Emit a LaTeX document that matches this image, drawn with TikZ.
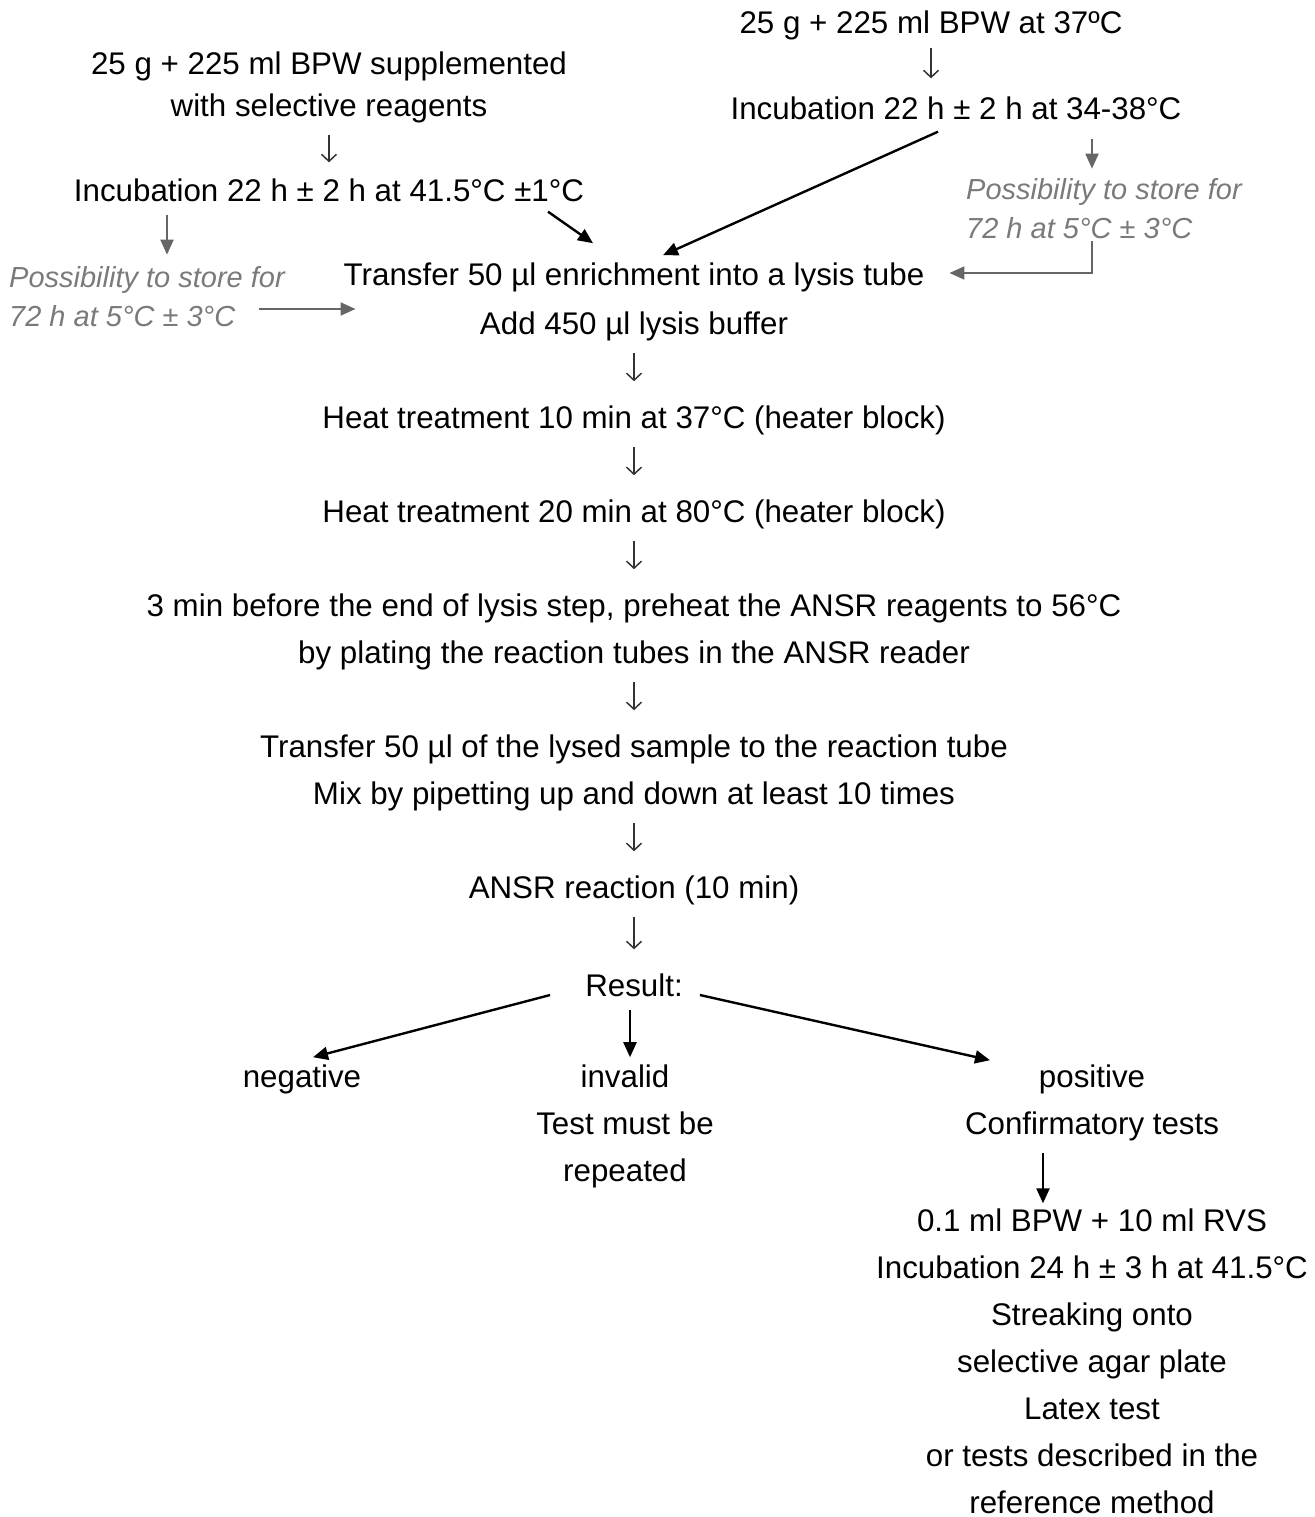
\documentclass[tikz,border=0pt]{standalone}
\usepackage{fontspec}
\setmainfont{Liberation Sans}
\usetikzlibrary{positioning,arrows.meta,calc}
\definecolor{storegrey}{HTML}{7A7A7A}
\definecolor{linegrey}{HTML}{666666}
\begin{document}
\begin{tikzpicture}[
  x=1pt,y=-1pt,
  every node/.style={font=\fontsize{31.3}{47}\selectfont,align=center,inner sep=4pt},
  tight/.style={font=\fontsize{31.3}{42}\selectfont},
  store/.style={font=\fontsize{29}{39}\selectfont\itshape,text=storegrey,align=left},
  edge/.style={-{Triangle[length=15pt,width=13pt]},line width=2.4pt},
  grey/.style={-{Triangle[length=15pt,width=13pt]},line width=2pt,draw=linegrey},
  dn/.style={-{Straight Barb[length=7pt,width=15pt]},line width=1.5pt,draw=black!80,
    shorten <=8pt,shorten >=20pt}
 ]
  \useasboundingbox (0,0) rectangle (1314,1517);
  % left enrichment
  \node[tight] (sel) at (329,87) {25 g + 225 ml BPW supplemented\\with selective reagents};
  \node (incl) at (329,190) {Incubation 22 h ± 2 h at 41.5°C ±1°C};
  \node[store] (stl) at (147,297) {Possibility to store for\\72 h at 5°C ± 3°C};
  % right enrichment
  \node (bpw) at (931,25) {25 g + 225 ml BPW at 37ºC};
  \node (incr) at (956,108) {Incubation 22 h ± 2 h at 34-38°C};
  \node[store] (str) at (1104,209) {Possibility to store for\\72 h at 5°C ± 3°C};
  % lysis and reaction
  \node (tr) at (634,277) {Transfer 50 µl enrichment into a lysis tube};
  \node (lys) at (634,326) {Add 450 µl lysis buffer};
  \node (ht1) at (634,420) {Heat treatment 10 min at 37°C (heater block)};
  \node (ht2) at (634,514) {Heat treatment 20 min at 80°C (heater block)};
  \node (pre) at (634,631.5) {3 min before the end of lysis step, preheat the ANSR reagents to 56°C\\
    by plating the reaction tubes in the ANSR reader};
  \node (mix) at (634,772.5) {Transfer 50 µl of the lysed sample to the reaction tube\\
    Mix by pipetting up and down at least 10 times};
  \node (ansr) at (634,890) {ANSR reaction (10 min)};
  \node (res) at (634,985) {Result:};
  % outcomes
  \node (neg) at (302,1079) {negative};
  \node (inv) at (625,1126) {invalid\\Test must be\\repeated};
  \node (pos) at (1092,1102.5) {positive\\Confirmatory tests};
  \node[inner ysep=1pt] (conf) at (1092,1361) {0.1 ml BPW + 10 ml RVS\\Incubation 24 h ± 3 h at 41.5°C\\
    Streaking onto\\selective agar plate\\Latex test\\or tests described in the\\
    reference method};
  % thin steps
  \draw[dn,shorten >=12pt] (sel) -- (incl);
  \draw[dn,shorten <=4pt,shorten >=14pt] (bpw) -- (bpw |- incr.north);
  \foreach \a/\b in {lys/ht1,ht1/ht2,ht2/pre,pre/mix,mix/ansr,ansr/res}
    \draw[dn] (\a) -- (\b);
  % into the lysis tube
  \draw[edge] ($(incl.south)+(219,6)$) -- ($(tr.north)+(-41,-15)$);
  \draw[edge] ($(incr.south)+(-18,8)$) -- ($(tr.north)+(29,-3)$);
  \draw[grey] ($(stl.north)+(20,-48)$) -- ($(stl.north)+(20,-8)$);
  \draw[grey] ($(tr.west)+(-81,32)$) -- ($(tr.west)+(16,32)$);
  \draw[grey] ($(str.north)+(-12,-36)$) -- ($(str.north)+(-12,-6)$);
  \draw[grey] ($(str.south)+(-12,-2)$) |- ($(tr.east)+(21,-4)$);
  % result branches
  \draw[edge] ($(res.west)+(-31,10)$) -- ($(neg.north)+(11,-3)$);
  \draw[edge] ($(res.south)+(-4,9)$) -- ($(inv.north)+(5,-3)$);
  \draw[edge] ($(res.east)+(13,10)$) -- ($(pos.north)+(-102,0)$);
  \draw[edge] ($(pos.south)+(-49,8)$) -- ($(conf.north)+(-49,-4)$);
 \end{tikzpicture}
\end{document}
